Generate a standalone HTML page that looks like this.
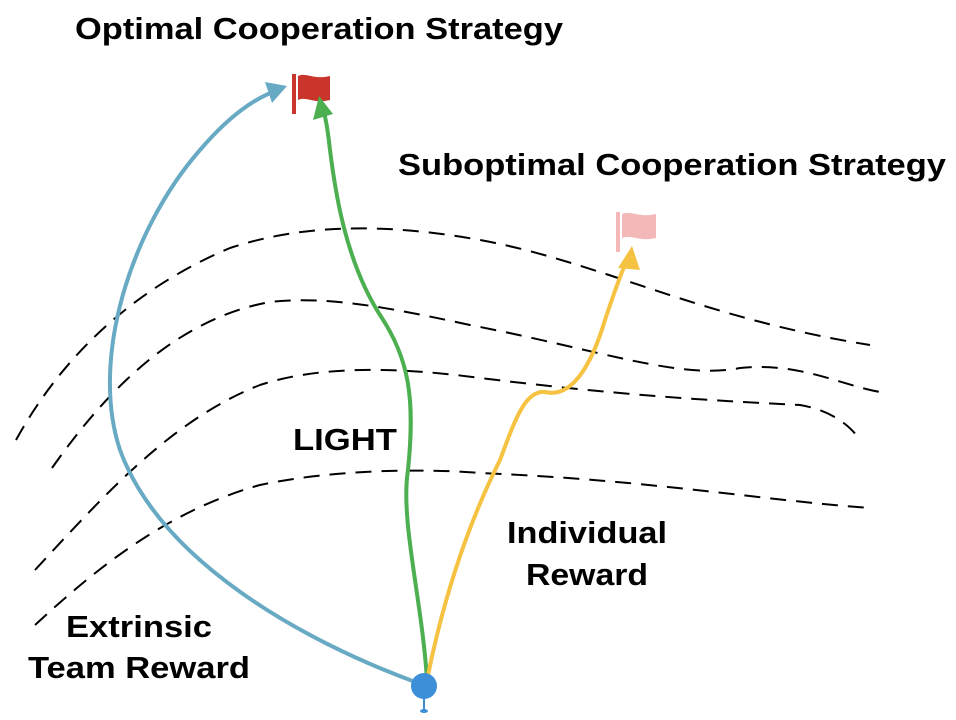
<!DOCTYPE html>
<html><head><style>
html,body{margin:0;padding:0;background:#fff;}
svg{display:block;}
text{font-family:"Liberation Sans",Arial,sans-serif;font-weight:bold;fill:#000;}
</style></head><body>
<svg width="956" height="720" viewBox="0 0 956 720" xmlns="http://www.w3.org/2000/svg">
<g fill="none" stroke="#000" stroke-width="2" stroke-dasharray="16,10">
<path d="M16,440 C60,360 130,290 230,248 C300,225 380,222 480,240 C600,262 700,318 870,345"/>
<path d="M52,468 C100,400 170,320 270,302 C330,295 400,310 470,325 C600,350 680,380 740,368 C800,362 840,385 880,392"/>
<path d="M35,570 C100,500 170,420 260,385 C330,362 420,370 480,378 C620,395 700,400 800,405 C830,410 850,425 860,440"/>
<path d="M35,625 C100,565 170,510 260,485 C330,470 420,468 480,473 C650,480 760,500 870,508"/>
</g>
<rect x="292" y="74" width="4" height="40" fill="#c9352a"/>
<path d="M298,76 C306,72 314,80 330,76 L330,100 C314,104 306,96 298,100 Z" fill="#c9352a"/>
<rect x="616" y="212" width="4" height="40" fill="#f4b8b8"/>
<path d="M622,214 C630,210 640,218 656,214 L656,238 C640,242 630,234 622,238 Z" fill="#f4b8b8"/>
<path d="M418,683 C300,640 160,560 120,450 C90,360 130,230 200,150 C230,115 255,98 278,90" fill="none" stroke="#68aac4" stroke-width="4"/>
<polygon points="287,86 265,82 272,103" fill="#68aac4"/>
<path d="M427,680 C422,600 400,520 408,470 C415,400 410,360 380,315 C345,260 335,190 330,150 C328,130 325,115 322,104" fill="none" stroke="#4caf50" stroke-width="4"/>
<polygon points="319,96 313,120 333,114" fill="#4caf50"/>
<path d="M427,680 C445,590 470,520 500,460 C515,420 525,390 545,392 C570,398 590,370 605,320 C615,290 622,270 628,258" fill="none" stroke="#f5c242" stroke-width="4"/>
<polygon points="632,246 618,268 640,270" fill="#f5c242"/>
<line x1="424" y1="690" x2="424" y2="710" stroke="#3d8fd8" stroke-width="2"/>
<ellipse cx="424" cy="711" rx="4" ry="2" fill="#3d8fd8"/>
<circle cx="424" cy="686" r="13" fill="#3d8fd8"/>
<text x="75" y="39" font-size="31" textLength="488" lengthAdjust="spacingAndGlyphs">Optimal Cooperation Strategy</text>
<text x="398" y="175" font-size="31" textLength="548" lengthAdjust="spacingAndGlyphs">Suboptimal Cooperation Strategy</text>
<text x="293" y="450" font-size="31" textLength="104" lengthAdjust="spacingAndGlyphs">LIGHT</text>
<text x="507" y="543" font-size="31" textLength="160" lengthAdjust="spacingAndGlyphs">Individual</text>
<text x="526" y="585" font-size="31" textLength="122" lengthAdjust="spacingAndGlyphs">Reward</text>
<text x="66" y="637" font-size="31" textLength="146" lengthAdjust="spacingAndGlyphs">Extrinsic</text>
<text x="28" y="678" font-size="31" textLength="222" lengthAdjust="spacingAndGlyphs">Team Reward</text>
</svg>
</body></html>
